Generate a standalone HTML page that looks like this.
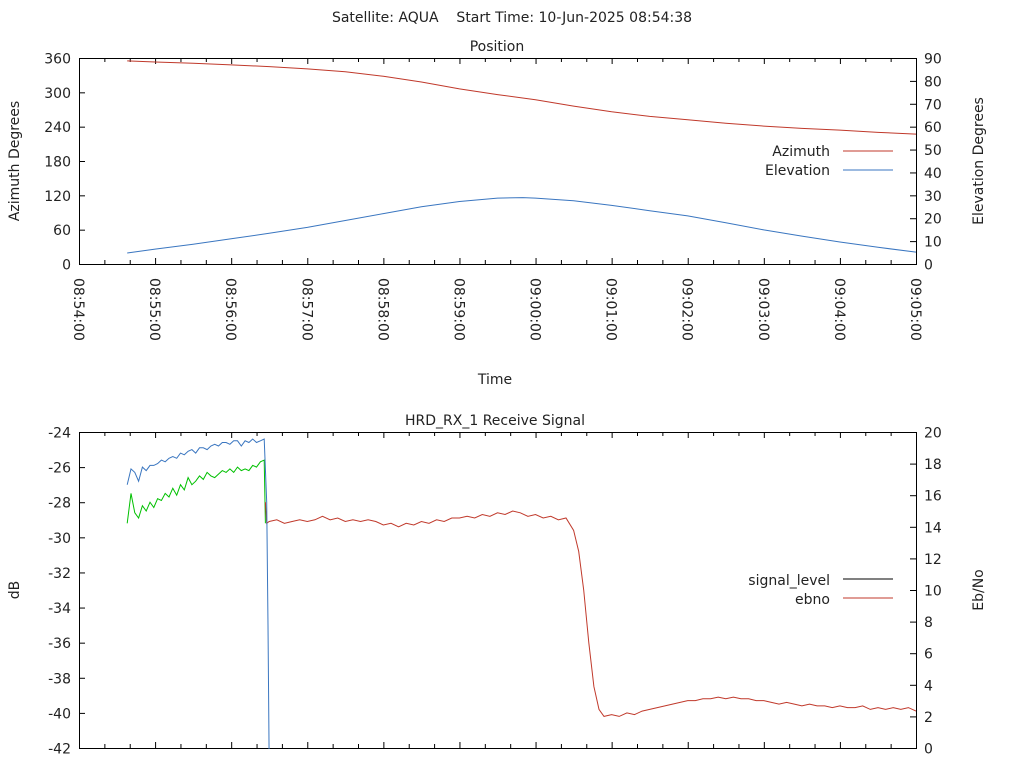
<!DOCTYPE html>
<html><head><meta charset="utf-8"><style>
body{margin:0;background:#fff}
svg{display:block;font-family:"DejaVu Sans","Liberation Sans",sans-serif;font-size:14px;fill:#222}
</style></head><body>
<svg id="c" width="1024" height="768" viewBox="0 0 1024 768"></svg>
<script>
// ---- data ----
const azTimes=[38,60,90,120,150,180,210,240,270,300,330,360,390,420,450,480,510,540,570,600,630,660];
const azimuth=[355,353,351,348,345,341,336,328,318,306,296,287,276,266,258,252,246,241,237,234,230,227];
const elTimes=[38,60,90,120,150,180,210,240,270,300,330,350,360,390,420,450,480,510,540,570,600,630,660];
const elevation=[4.8,6.5,8.6,11,13.4,16,19,22,25,27.3,28.8,29,28.8,27.6,25.6,23.3,21,18,14.9,12.2,9.6,7.3,5.2];
const sigTimes=[38,41,44,47,50,53,56,59,62,65,68,71,74,77,80,83,86,89,92,95,98,101,104,107,110,113,116,119,122,125,128,131,134,137,140,143,146,148,149,150];
const sigLevel=[-27.0,-26.1,-26.3,-26.8,-26.0,-26.2,-25.9,-25.9,-25.8,-25.6,-25.7,-25.5,-25.4,-25.5,-25.2,-25.3,-25.1,-25.0,-25.2,-24.9,-24.9,-25.0,-24.8,-24.7,-24.8,-24.6,-24.6,-24.7,-24.5,-24.5,-24.8,-24.5,-24.6,-24.4,-24.6,-24.5,-24.4,-28,-35,-43];
const ebTimesEarly=[38,41,44,47,50,53,56,59,62,65,68,71,74,77,80,83,86,89,92,95,98,101,104,107,110,113,116,119,122,125,128,131,134,137,140,143,146,147];
const ebnoEarly=[-29.2,-27.5,-28.6,-28.9,-28.2,-28.5,-28.0,-28.3,-27.8,-27.9,-27.5,-27.7,-27.2,-27.6,-27.0,-27.3,-26.6,-27.0,-26.8,-26.5,-26.7,-26.3,-26.5,-26.6,-26.4,-26.2,-26.3,-26.1,-26.3,-26.0,-26.2,-26.1,-26.2,-25.9,-26.0,-25.7,-25.6,-29.2];
const ebTimes=[147,148,150,156,162,168,174,180,186,192,198,204,210,216,222,228,234,240,246,252,258,264,270,276,282,288,294,300,306,312,318,324,330,336,342,348,354,360,366,372,378,384,390,394,398,402,406,410,414,420,426,432,438,444,450,456,462,468,474,480,486,492,498,504,510,516,522,528,534,540,546,552,558,564,570,576,582,588,594,600,606,612,618,624,630,636,642,648,654,660];
const ebno=[-28.0,-29.2,-29.1,-29.0,-29.2,-29.1,-29.0,-29.1,-29.0,-28.8,-29.0,-28.9,-29.1,-29.0,-29.1,-29.0,-29.1,-29.3,-29.2,-29.4,-29.2,-29.3,-29.1,-29.2,-29.0,-29.1,-28.9,-28.9,-28.8,-28.9,-28.7,-28.8,-28.6,-28.7,-28.5,-28.6,-28.8,-28.7,-28.9,-28.8,-29.0,-28.9,-29.6,-30.8,-33,-36,-38.5,-39.8,-40.2,-40.1,-40.2,-40.0,-40.1,-39.9,-39.8,-39.7,-39.6,-39.5,-39.4,-39.3,-39.3,-39.2,-39.2,-39.1,-39.2,-39.1,-39.2,-39.2,-39.3,-39.3,-39.4,-39.5,-39.4,-39.5,-39.6,-39.5,-39.6,-39.6,-39.7,-39.6,-39.7,-39.7,-39.6,-39.8,-39.7,-39.8,-39.7,-39.8,-39.7,-39.9];
const timeLabels=["08:54:00","08:55:00","08:56:00","08:57:00","08:58:00","08:59:00","09:00:00","09:01:00","09:02:00","09:03:00","09:04:00","09:05:00"];
const azTicks=[0,60,120,180,240,300,360];
const elTicks=[0,10,20,30,40,50,60,70,80,90];
const dbTicks=[-24,-26,-28,-30,-32,-34,-36,-38,-40,-42];
const ebTicks=[0,2,4,6,8,10,12,14,16,18,20];

// ---- geometry ----
const svg=document.getElementById('c');const NS='http://www.w3.org/2000/svg';
const L=79,R=916;const T1=58,B1=264,T2=432,B2=748;
const xs=t=>L+t*(R-L)/660;
const yAz=v=>B1-v*(B1-T1)/360, yEl=v=>B1-v*(B1-T1)/90;
const yDb=v=>T2+(-24-v)*(B2-T2)/18, yEb=v=>B2-v*(B2-T2)/20;
function mk(tag,attrs,parent){const e=document.createElementNS(NS,tag);for(const k in attrs)e.setAttribute(k,attrs[k]);(parent||svg).appendChild(e);return e;}
function txt(s,x,y,anchor,name,rot){const e=mk('text',{x:x,y:y,'text-anchor':anchor});if(rot)e.setAttribute('transform',`rotate(${rot} ${x} ${y})`);e.textContent=s;


return e;}
function line(x1,y1,x2,y2,name){const e=mk('line',{x1,y1,x2,y2,stroke:'#000','stroke-width':1});

}
function series(ts,vs,yf,color,name,clip){const p=ts.map((t,i)=>xs(t).toFixed(1)+','+yf(vs[i]).toFixed(1)).join(' ');
const e=mk('polyline',{points:p,fill:'none',stroke:color,'stroke-width':1,'clip-path':clip});

}
const defs=mk('defs',{});const cp=mk('clipPath',{id:'cp2'},defs);mk('rect',{x:L,y:T2,width:R-L,height:B2-T2+1},cp);

const tt=txt('Satellite: AQUA    Start Time: 10-Jun-2025 08:54:38',512,22,'middle','main-title');tt.style.whiteSpace='pre';
txt('Position',497,51,'middle','position-title');
txt('Time',495,384,'middle','x-axis-title');
txt('HRD_RX_1 Receive Signal',495,425,'middle','signal-title');
txt('Azimuth Degrees',19,161,'middle','azimuth-axis-title',-90);
txt('Elevation Degrees',983,161,'middle','elevation-axis-title',-90);
txt('dB',19,590,'middle','db-axis-title',-90);
txt('Eb/No',983,590,'middle','ebno-axis-title',-90);

for(const [t,b,n] of [[T1,B1,'position-frame'],[T2,B2,'signal-frame']]){const r=mk('rect',{x:L+.5,y:t+.5,width:R-L,height:b-t,fill:'none',stroke:'#000'});

}
for(let t=0;t<=660;t+=20){const x=xs(t)+.5;const len=t%60===0?6:4;
line(x,B1,x,B1-len,'x-tick');line(x,T1,x,T1+len,'x-tick');
line(x,B2,x,B2-len,'x-tick');line(x,T2,x,T2+len,'x-tick');}
timeLabels.forEach((s,i)=>{const x=xs(i*60)-5;txt(s,x,278,'start','x-tick-label',90);});
azTicks.forEach(v=>{const y=yAz(v)+.5;line(L,y,L+6,y,'y-tick');txt(v,L-8,y+5,'end','azimuth-tick-label');});
elTicks.forEach(v=>{const y=yEl(v)+.5;line(R-6,y,R,y,'y2-tick');txt(v,R+8,y+5,'start','elevation-tick-label');});
dbTicks.forEach(v=>{const y=yDb(v)+.5;line(L,y,L+6,y,'y-tick');txt(v,L-8,y+5,'end','db-tick-label');});
ebTicks.forEach(v=>{const y=yEb(v)+.5;line(R-6,y,R,y,'y2-tick');txt(v,R+8,y+5,'start','ebno-tick-label');});

series(azTimes,azimuth,yAz,'#c0392b','azimuth-line');
series(elTimes,elevation,yEl,'#3a76c0','elevation-line');
series(ebTimesEarly,ebnoEarly,yDb,'#00c000','ebno-early-line','url(#cp2)');
series(ebTimes,ebno,yDb,'#c0392b','ebno-line','url(#cp2)');
series(sigTimes,sigLevel,yDb,'#3a76c0','signal-level-line','url(#cp2)');

txt('Azimuth',830,156,'end','legend-azimuth-label');mk('line',{x1:843,y1:151,x2:893,y2:151,stroke:'#c0392b'});
txt('Elevation',830,175,'end','legend-elevation-label');mk('line',{x1:843,y1:170,x2:893,y2:170,stroke:'#3a76c0'});
txt('signal_level',830,585,'end','legend-signal-label');mk('line',{x1:843,y1:579,x2:893,y2:579,stroke:'#000'});
txt('ebno',830,604,'end','legend-ebno-label');mk('line',{x1:843,y1:598,x2:893,y2:598,stroke:'#c0392b'});
</script>
</body></html>
